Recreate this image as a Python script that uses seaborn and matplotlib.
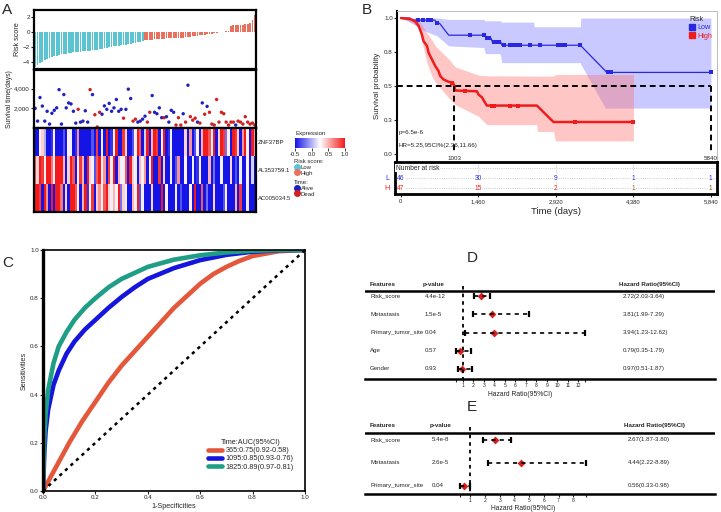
import numpy as np
import pandas as pd
import matplotlib
matplotlib.use("Agg")
import matplotlib.pyplot as plt
import matplotlib.transforms as mtransforms
import seaborn as sns
from matplotlib.colors import LinearSegmentedColormap
from matplotlib.lines import Line2D
from matplotlib.patches import Patch

# ---------------- data: panel A (risk score / survival / heatmap) ----------------
risk_low = [-4.72, -4.45, -4.2, -4.0, -3.82, -3.66, -3.52, -3.4, -3.28, -3.18,
            -3.08, -3.0, -2.94, -2.9, -2.85, -2.8, -2.76, -2.72, -2.68, -2.64,
            -2.6, -2.57, -2.54, -2.5, -2.45, -2.4, -2.36, -2.3, -2.25, -2.2,
            -2.12, -2.05, -1.98, -1.93, -1.88, -1.83, -1.78, -1.72, -1.68, -1.62,
            -1.56, -1.5, -1.44, -1.38, -1.3, -1.22]
risk_high = [-1.12, -1.08, -1.04, -1.0, -0.97, -0.94, -0.92, -0.9, -0.88, -0.86,
             -0.85, -0.83, -0.81, -0.8, -0.78, -0.76, -0.73, -0.7, -0.66, -0.62,
             -0.58, -0.54, -0.5, -0.45, -0.4, -0.35, -0.3, -0.25, -0.2, -0.14,
             -0.08, -0.03, 0.02, 0.08, 0.14, 0.2, 0.86, 0.9, 0.93, 0.96,
             0.99, 1.02, 1.06, 1.1, 1.3, 1.6, 2.3]
time_low = [2000, 700, 3100, 2230, 700, 1700, 400, 1500, 1800, 2050,
            3900, 400, 3400, 2050, 2550, 2450, 1700, 500, 1900, 600,
            700, 1750, 600, 3900, 3400, 1350, 100, 1600, 1400, 2250,
            1900, 2500, 1700, 2050, 2900, 1700, 1900, 1000, 1900, 3950,
            3000, 700, 900, 600, 700, 900]
time_high = [1200, 600, 1600, 3300, 1600, 1450, 2050, 1050, 1050, 1150,
             600, 1800, 1600, 300, 1050, 300, 1450, 600, 4350, 1150,
             800, 1000, 600, 500, 2550, 1400, 2200, 1600, 400, 300,
             2900, 600, 1600, 1450, 600, 300, 600, 600, 300, 700,
             600, 400, 1150, 600, 400, 500, 300]
dead_low = [0, 0, 0, 0, 0, 0, 0, 0, 0, 0, 0, 0, 0, 0, 0, 0, 0, 0, 1, 0,
            0, 0, 0, 1, 0, 1, 1, 1, 0, 0, 0, 0, 0, 0, 0, 0, 0, 1, 0, 0,
            0, 1, 1, 0, 0, 0]
dead_high = [0, 1, 1, 0, 0, 0, 0, 0, 1, 0, 0, 0, 0, 1, 1, 1, 0, 1, 0, 1,
             1, 1, 0, 1, 0, 1, 0, 1, 1, 1, 1, 1, 1, 1, 1, 1, 1, 1, 0, 1,
             1, 1, 1, 1, 1, 1, 1]

gene_names = ["ZNF37BP", "AL353759.1", "AC005034.5"]
expr_znf = [-0.5, -0.5, 0.3, 0.4, 0.0, -0.5, -0.5, -0.4, 0.3, -0.5, -0.5, -0.5, -0.3, -0.5, 0.3, 0.2,
            -0.5, -0.4, 0.6, -0.5, -0.5, -0.5, -0.5, -0.5, -0.3, -0.5, 0.9, -0.5, 0.2, -0.5, 1.0, -0.5,
            -0.4, 0.3, 1.0, -0.5, -0.5, 0.9, 0.4, -0.5, -0.5, -0.3, 0.3, 1.0, 0.8, -0.5, 0.1,
            1.0, -0.5, 0.5, 1.0, 0.9, -0.5, 0.3, 1.0, -0.5, -0.4, 0.2, -0.5, -0.5, -0.5, -0.5, -0.5,
            0.4, -0.5, 0.6, -0.5, -0.3, 0.3, -0.5, 0.5, 1.0, 1.0, 0.8, 0.2, 1.0, -0.5, 0.4, 1.0,
            0.9, -0.2, 0.3, -0.5, 1.0, 0.9, 0.4, -0.5, 0.6, 1.0, 0.3, -0.5, 1.0, 0.5]
expr_al = [0.8, 0.4, 1.0, 0.9, 0.3, 1.0, 1.0, 0.7, 0.2, 1.0, 1.0, 1.0, 0.5, -0.5, 0.4, 1.0,
           0.8, -0.5, 0.3, 0.9, 0.5, -0.5, 1.0, 0.4, 0.2, -0.3, 0.8, 1.0, 0.3, 0.6, -0.5, 0.9,
           0.3, 1.0, -0.5, 0.5, 0.2, 0.3, 0.8, -0.5, 1.0, 0.4, 0.2, -0.5, 0.5, 0.3, 0.6,
           -0.5, 0.3, 1.0, -0.5, -0.5, 0.9, -0.5, 0.4, -0.5, -0.5, 0.2, -0.5, -0.3, 0.6, -0.5, -0.5,
           0.3, -0.5, -0.5, 0.2, -0.5, -0.4, 0.3, -0.5, -0.5, -0.5, 0.5, -0.5, -0.2, -0.5, -0.5, 0.2,
           -0.5, -0.5, -0.5, 0.4, -0.5, -0.3, -0.5, 0.2, -0.5, -0.5, 0.3, -0.5, 0.1, -0.5]
expr_ac = [1.0, 1.0, 0.9, -0.5, 1.0, 0.6, -0.5, 1.0, -0.5, 1.0, 1.0, 0.7, -0.5, 0.4, -0.5, 1.0,
           1.0, 0.8, 0.3, -0.5, 0.5, 1.0, -0.4, 0.3, 0.9, -0.5, 0.4, 0.6, 0.3, 0.8, 1.0, 0.4,
           0.2, 0.5, 0.3, 1.0, -0.2, 0.4, 0.2, -0.5, -0.5, 0.5, 0.3, 1.0, -0.3, 0.2, -0.5,
           -0.5, -0.5, 0.4, -0.5, -0.5, -0.5, 1.0, -0.5, 0.3, -0.5, -0.5, -0.5, 0.2, -0.5, -0.3, -0.5,
           -0.5, -0.5, 0.3, -0.5, 1.0, -0.5, -0.5, 0.8, -0.5, -0.2, -0.5, -0.5, 0.4, -0.5, -0.5, -0.5,
           -0.3, 0.3, -0.5, -0.5, -0.5, 0.5, -0.5, 0.9, -0.5, -0.5, 0.2, -0.5, -0.5, -0.5]

# ---------------- data: panel B (Kaplan-Meier) ----------------
low_t = [0, 170, 190, 640, 660, 730, 900, 1590, 1610, 1700, 1720, 1880, 1900, 3380, 3880, 5840]
low_s = [1.0, 1.0, 0.985, 0.985, 0.965, 0.96, 0.874, 0.874, 0.85, 0.85, 0.825, 0.825, 0.80, 0.80, 0.60, 0.60]
high_t = [0, 175, 270, 332, 393, 425, 490, 520, 583, 646, 708, 740, 803, 897, 979, 1003, 1023,
          1431, 1461, 1525, 1569, 1619, 2561, 2874, 4380]
high_s = [1.0, 0.993, 0.975, 0.943, 0.88, 0.83, 0.795, 0.745, 0.696, 0.647, 0.61, 0.573, 0.548,
          0.531, 0.524, 0.504, 0.467, 0.461, 0.437, 0.417, 0.387, 0.356, 0.356, 0.235, 0.235]
low_cens_t = [330, 420, 500, 560, 680, 1305, 1560, 1620, 1660, 1760, 1800, 1850, 1950, 2060,
              2120, 2190, 2250, 2430, 2620, 2950, 3010, 3100, 3380, 3900, 3960, 5840]
low_cens_s = [0.985, 0.985, 0.985, 0.985, 0.965, 0.874, 0.874, 0.85, 0.85, 0.825, 0.825, 0.825,
              0.80, 0.80, 0.80, 0.80, 0.80, 0.80, 0.80, 0.80, 0.80, 0.80, 0.80, 0.60, 0.60, 0.60]
high_cens_t = [960, 1210, 1720, 1745, 2060, 2210, 3280, 4380]
high_cens_s = [0.524, 0.461, 0.356, 0.356, 0.356, 0.356, 0.235, 0.235]
band_low_t = [0, 240, 360, 680, 900, 1560, 1590, 1870, 1900, 2500, 2510, 3380, 3390, 3850, 5840]
band_low_lo = [1.0, 0.955, 0.918, 0.869, 0.795, 0.783, 0.738, 0.738, 0.672, 0.672, 0.672, 0.672,
               0.66, 0.338, 0.338]
band_low_hi = [1.0, 1.0, 1.0, 1.0, 0.99, 0.99, 0.98, 0.98, 0.97, 0.97, 0.936, 0.936, 1.0, 1.0, 1.0]
band_high_t = [0, 200, 332, 393, 490, 583, 646, 740, 897, 1023, 1461, 1619, 2561, 2570, 2874, 2910, 4380]
band_high_lo = [1.0, 0.97, 0.93, 0.83, 0.67, 0.573, 0.53, 0.486, 0.413, 0.363, 0.277, 0.215, 0.215,
                0.165, 0.165, 0.096, 0.096]
band_high_hi = [1.0, 1.0, 0.985, 0.95, 0.89, 0.84, 0.795, 0.76, 0.70, 0.64, 0.58, 0.575, 0.573,
                0.573, 0.573, 0.585, 0.585]
risk_ticks = [0, 1460, 2920, 4380, 5840]
risk_tick_labels = ["0", "1,460", "2,920", "4,380", "5,840"]
at_risk_low = [46, 30, 9, 1, 1]
at_risk_high = [47, 15, 2, 1, 1]

# ---------------- data: panel C (time dependent ROC) ----------------
roc_365_fpr = [0, 0.05, 0.1, 0.15, 0.2, 0.25, 0.3, 0.35, 0.4, 0.45, 0.5, 0.55, 0.6, 0.65, 0.7, 0.75, 0.8, 0.9, 1.0]
roc_365_tpr = [0, 0.1, 0.2, 0.29, 0.37, 0.45, 0.52, 0.58, 0.64, 0.7, 0.76, 0.81, 0.86, 0.9, 0.93, 0.955, 0.975, 0.995, 1.0]
roc_1095_fpr = [0, 0.005, 0.01, 0.02, 0.04, 0.06, 0.09, 0.12, 0.16, 0.2, 0.25, 0.3, 0.35, 0.4, 0.5, 0.6, 0.7, 0.8, 0.9, 1.0]
roc_1095_tpr = [0, 0.16, 0.25, 0.34, 0.44, 0.5, 0.57, 0.62, 0.67, 0.71, 0.76, 0.805, 0.845, 0.88, 0.925, 0.958, 0.98, 0.993, 0.999, 1.0]
roc_1825_fpr = [0, 0.005, 0.01, 0.02, 0.04, 0.06, 0.09, 0.12, 0.16, 0.2, 0.25, 0.3, 0.35, 0.4, 0.5, 0.6, 0.7, 0.8, 0.9, 1.0]
roc_1825_tpr = [0, 0.22, 0.32, 0.42, 0.53, 0.6, 0.66, 0.71, 0.76, 0.8, 0.845, 0.88, 0.905, 0.93, 0.96, 0.978, 0.99, 0.997, 1.0, 1.0]
roc_labels = ["365:0.75(0.92-0.58)", "1095:0.85(0.93-0.76)", "1825:0.89(0.97-0.81)"]

# ---------------- data: panels D / E (forest plots) ----------------
feat_d = ["Risk_score", "Metastasis", "Primary_tumor_site", "Age", "Gender"]
pval_d = ["4.4e-12", "1.5e-5", "0.04", "0.57", "0.93"]
hr_d = [2.72, 3.81, 3.94, 0.79, 0.97]
lo_d = [2.03, 1.99, 1.23, 0.35, 0.51]
hi_d = [3.64, 7.29, 12.62, 1.79, 1.87]
feat_e = ["Risk_score", "Metastasis", "Primary_tumor_site"]
pval_e = ["5.4e-8", "2.6e-5", "0.04"]
hr_e = [2.67, 4.44, 0.56]
lo_e = [1.87, 2.22, 0.33]
hi_e = [3.80, 8.89, 0.98]

# ---------------- style ----------------
W, H = 721, 512
sns.set_theme(style="white")
plt.rcParams["font.family"] = ["Liberation Sans", "DejaVu Sans"]

c_low, c_high = "#5BC4D3", "#E8705F"
c_alive, c_dead = "#2020C0", "#D02020"
km_blue, km_red = "#2828E0", "#EE1C1C"
roc_colors = ["#E4573A", "#1515DD", "#1E9E85"]
fs_tick, fs_lab = 4.5, 5.2


def px_box(x0, y0, x1, y1):
    # pixel box (top-left origin) -> figure fraction rect
    return [x0 / W, 1 - y1 / H, (x1 - x0) / W, (y1 - y0) / H]


def frame(ax, lw=1.5, color="black"):
    for s in ax.spines.values():
        s.set_visible(True)
        s.set_linewidth(lw)
        s.set_color(color)


fig = plt.figure(figsize=(W / 100, H / 100), dpi=100)

# ================= A =================
n = len(risk_low) + len(risk_high)
df_a = pd.DataFrame({
    "patient": np.arange(n),
    "risk": risk_low + risk_high,
    "group": ["Low"] * len(risk_low) + ["High"] * len(risk_high),
    "time": time_low + time_high,
    "state": ["Dead" if d else "Alive" for d in dead_low + dead_high],
})

ax_bar = fig.add_axes(px_box(34, 10, 256, 69))
sns.barplot(data=df_a, x="patient", y="risk", hue="group", palette={"Low": c_low, "High": c_high},
            dodge=False, width=0.75, saturation=1, linewidth=0, legend=False, ax=ax_bar)
ax_bar.set_xlim(-0.5, n - 0.5)
ax_bar.set_ylim(-5, 3)
ax_bar.set_xticks([])
ax_bar.set_yticks([-4, -2, 0, 2])
ax_bar.set_xlabel("")
ax_bar.set_ylabel("Risk score", fontsize=fs_lab, labelpad=1)
ax_bar.tick_params(axis="y", left=True, labelsize=fs_tick, length=2, width=0.8, pad=1)
frame(ax_bar, 1.6)

ax_surv = fig.add_axes(px_box(34, 70, 256, 128))
sns.scatterplot(data=df_a, x="patient", y="time", hue="state", palette={"Alive": c_alive, "Dead": c_dead},
                s=6, linewidth=0, legend=False, ax=ax_surv)
ax_surv.set_xlim(-0.5, n - 0.5)
ax_surv.set_ylim(0, 5900)
ax_surv.set_xticks([])
ax_surv.set_yticks([2000, 4000])
ax_surv.set_yticklabels(["2,000", "4,000"])
ax_surv.set_xlabel("")
ax_surv.set_ylabel("Survival time(days)", fontsize=fs_lab - 0.3, labelpad=1)
ax_surv.tick_params(axis="y", left=True, labelsize=fs_tick, length=2, width=0.8, pad=1)
frame(ax_surv, 1.6)

expr = pd.DataFrame([expr_znf, expr_al, expr_ac], index=gene_names)
heat_cmap = LinearSegmentedColormap.from_list("expr", ["#1414E6", "#FFFFFF", "#F21A1A"])
ax_heat = fig.add_axes(px_box(34, 128, 256, 212))
cax = fig.add_axes(px_box(295, 138, 345, 148))
sns.heatmap(expr, cmap=heat_cmap, vmin=-0.5, vmax=1.0, ax=ax_heat, cbar_ax=cax, xticklabels=False,
            cbar_kws={"orientation": "horizontal", "ticks": [-0.5, 0, 0.5, 1.0]})
ax_heat.yaxis.tick_right()
ax_heat.set_yticklabels(gene_names, rotation=0, fontsize=4.3)
ax_heat.tick_params(axis="y", length=0, pad=1.5)
frame(ax_heat, 1.6)
cax.set_xticklabels(["-0.5", "0.0", "0.5", "1.0"])
cax.tick_params(axis="x", bottom=True, labelsize=4.2, length=2, width=0.6, pad=1)
fig.text(296 / W, 1 - 134 / H, "Expression", fontsize=4.4, va="center")

leg_kw = dict(loc="upper left", frameon=False, fontsize=4.3, title_fontsize=4.3, alignment="left",
              handletextpad=0.2, labelspacing=0.1, borderpad=0, borderaxespad=0, handlelength=0.9,
              bbox_transform=fig.transFigure)
h_risk = [Line2D([], [], ls="", marker="o", ms=4, color=c_low),
          Line2D([], [], ls="", marker="o", ms=4, color=c_high)]
h_time = [Line2D([], [], ls="", marker="o", ms=4, color=c_alive),
          Line2D([], [], ls="", marker="o", ms=4, color=c_dead)]
fig.legend(h_risk, ["Low", "High"], title="Risk score:", bbox_to_anchor=(294 / W, 1 - 159 / H), **leg_kw)
fig.legend(h_time, ["Alive", "Dead"], title="Time:", bbox_to_anchor=(294 / W, 1 - 180 / H), **leg_kw)

# ================= B =================
ax_km = fig.add_axes(px_box(397, 11, 717, 161))
ax_km.fill_between(band_low_t, band_low_lo, band_low_hi, color=(0.45, 0.45, 1.0), alpha=0.38, lw=0)
ax_km.fill_between(band_high_t, band_high_lo, band_high_hi, color=(1.0, 0.42, 0.42), alpha=0.38, lw=0)
km_low = pd.DataFrame({"time": low_t, "surv": low_s})
km_high = pd.DataFrame({"time": high_t, "surv": high_s})
sns.lineplot(data=km_low, x="time", y="surv", color=km_blue, lw=0.9, estimator=None, sort=False, ax=ax_km)
sns.lineplot(data=km_high, x="time", y="surv", color=km_red, lw=1.8, estimator=None, sort=False, ax=ax_km)
sns.scatterplot(x=low_cens_t, y=low_cens_s, color=km_blue, marker="s", s=5, linewidth=0, ax=ax_km)
sns.scatterplot(x=high_cens_t, y=high_cens_s, color=km_red, marker="s", s=5, linewidth=0, ax=ax_km)
dash = (0, (3, 2))
ax_km.plot([-75, 5840], [0.5, 0.5], color="black", ls=dash, lw=1.4)
for t in [1003, 5840]:
    ax_km.plot([t, t], [0.5, 0.0], color="black", ls=dash, lw=1.4)
    ax_km.text(t, -0.033, str(t), fontsize=fs_tick, ha="center", va="center")
ax_km.text(-45, 0.156, "p=6.5e-6", fontsize=fs_tick, va="center")
ax_km.text(-45, 0.06, "HR=5.25,95CI%(2.36,11.66)", fontsize=fs_tick, va="center")
ax_km.set_xlim(-75, 5955)
ax_km.set_ylim(-0.052, 1.052)
ax_km.set_xticks([])
ax_km.set_yticks([0, 0.25, 0.5, 0.75, 1.0])
ax_km.set_yticklabels(["0.0", "0.3", "0.5", "0.8", "1.0"])
ax_km.set_xlabel("")
ax_km.set_ylabel("Survival probability", fontsize=fs_lab + 0.5, labelpad=2)
ax_km.tick_params(axis="y", left=True, labelsize=fs_tick, length=2, width=0.8, pad=1)
frame(ax_km, 0.7, "#BBBBBB")
ax_km.spines["left"].set_color("black")
ax_km.spines["left"].set_linewidth(1.5)
ax_km.spines["bottom"].set_visible(False)
leg = ax_km.legend(handles=[Patch(color=km_blue, label="Low"), Patch(color=km_red, label="High")],
                   title="Risk", loc="upper right", frameon=False, fontsize=fs_lab, title_fontsize=fs_lab,
                   alignment="left", handlelength=0.8, handleheight=0.8, handletextpad=0.3,
                   labelspacing=0.15, borderaxespad=0.3)
for txt, c in zip(leg.get_texts(), [km_blue, km_red]):
    txt.set_color(c)

ax_tab = fig.add_axes(px_box(395, 162, 717, 194))
ax_tab.set_xlim(-107, 5960)
ax_tab.set_ylim(2.55, -0.6)
for t in risk_ticks[1:-1]:
    ax_tab.axvline(t, color="#BBBBBB", ls=":", lw=0.6)
for r in [0, 1, 2]:
    ax_tab.axhline(r, color="#BBBBBB", ls=":", lw=0.6, zorder=0)
ax_tab.text(-95, 0, "Number at risk", fontsize=fs_tick + 0.3, va="center",
            bbox=dict(facecolor="white", edgecolor="none", pad=0.5))
for t, a, b in zip(risk_ticks, at_risk_low, at_risk_high):
    ax_tab.text(t, 1, str(a), color=km_blue, fontsize=fs_tick + 0.3, ha="center", va="center",
                bbox=dict(facecolor="white", edgecolor="none", pad=0.3))
    ax_tab.text(t, 2, str(b), color=km_red if b > 1 else "#A0522D", fontsize=fs_tick + 0.3, ha="center",
                va="center", bbox=dict(facecolor="white", edgecolor="none", pad=0.3))
ax_tab.text(-250, 1, "L", color=km_blue, fontsize=fs_lab, ha="center", va="center")
ax_tab.text(-250, 2, "H", color=km_red, fontsize=fs_lab, ha="center", va="center")
ax_tab.set_xticks(risk_ticks)
ax_tab.set_xticklabels(risk_tick_labels)
ax_tab.set_yticks([])
ax_tab.tick_params(axis="x", bottom=True, labelsize=fs_tick - 0.3, length=2, width=0.8, pad=1.5)
ax_tab.set_xlabel("Time (days)", fontsize=6.8, labelpad=2)
frame(ax_tab, 2.0)

# ================= C =================
ax_roc = fig.add_axes(px_box(43, 250, 305, 491))
roc_sets = [(roc_365_fpr, roc_365_tpr), (roc_1095_fpr, roc_1095_tpr), (roc_1825_fpr, roc_1825_tpr)]
for (fpr, tpr), col, lab in zip(roc_sets, roc_colors, roc_labels):
    sns.lineplot(x=fpr, y=tpr, color=col, lw=3.3, estimator=None, sort=False, label=lab, ax=ax_roc)
ax_roc.plot([0, 1], [0, 1], color="black", ls=(0, (1.3, 1.7)), lw=1.8)
ax_roc.set_xlim(0, 1)
ax_roc.set_ylim(0, 1)
ax_roc.set_xticks(np.arange(0, 1.01, 0.2))
ax_roc.set_yticks(np.arange(0, 1.01, 0.2))
ax_roc.set_xticklabels([f"{v:.1f}" for v in np.arange(0, 1.01, 0.2)])
ax_roc.set_yticklabels([f"{v:.1f}" for v in np.arange(0, 1.01, 0.2)])
ax_roc.tick_params(left=True, bottom=True, labelsize=fs_tick, length=2, width=0.8, pad=1)
ax_roc.set_xlabel("1-Specificities", fontsize=fs_lab, labelpad=2)
ax_roc.set_ylabel("Sensitivities", fontsize=fs_lab, labelpad=2)
frame(ax_roc, 1.2)
ax_roc.spines["left"].set_linewidth(2.4)
ax_roc.legend(title="Time:AUC(95%CI)", loc="lower right", bbox_to_anchor=(0.97, 0.07), frameon=False,
              fontsize=fs_lab, title_fontsize=fs_lab, handlelength=2.0, handletextpad=0.4,
              labelspacing=0.15, borderpad=0)


# ================= D / E =================
def forest(box, feats, pvals, hr, lo, hi, x0_px, unit_px, ylim, p_frac, hr_frac, label_drop):
    ax = fig.add_axes(px_box(*box))
    left_px, right_px = box[0], box[2]
    ax.set_xlim((left_px - x0_px) / unit_px, (right_px - x0_px) / unit_px)
    ax.set_ylim(*ylim)
    rows = np.arange(len(feats))
    df = pd.DataFrame({"row": rows, "hr": hr, "lo": lo, "hi": hi})
    trans = mtransforms.blended_transform_factory(ax.transAxes, ax.transData)
    head_y = -0.62
    line_y = -0.3
    for txt, fx in [("Features", 0.0143), ("p-value", p_frac - 0.006), ("Hazard Ratio(95%CI)", hr_frac - 0.012)]:
        ax.text(fx, head_y, txt, fontsize=4.5, fontweight="bold", va="center", transform=trans)
    ax.axhline(line_y, color="black", lw=1.8)
    ax.plot([1, 1], [line_y - 0.25, ylim[0]], color="black", ls=(0, (2, 2.2)), lw=1.3)
    for _, r in df.iterrows():
        ax.plot([r.lo, r.hi], [r.row, r.row], color="black", ls=(0, (2.5, 2.5)), lw=1.2)
        ax.plot([r.lo, r.hi], [r.row, r.row], ls="", marker="|", ms=4.5, mew=1.6, color="black")
    sns.scatterplot(data=df, x="hr", y="row", marker="D", color="#D42020", s=16, linewidth=0, ax=ax)
    for i, (f, p, h, l, u) in enumerate(zip(feats, pvals, hr, lo, hi)):
        ax.text(0.0143, i, f, fontsize=4.4, va="center", transform=trans)
        ax.text(p_frac, i, p, fontsize=4.4, va="center", transform=trans)
        ax.text(hr_frac, i, f"{h:.2f}({l:.2f}-{u:.2f})", fontsize=4.4, va="center", transform=trans)
    ticks = [min(lo)] + list(range(1, int(max(hi)) + 1)) + [max(hi)]
    ax.set_xticks(ticks)
    ax.set_xticklabels([""] + [str(t) for t in range(1, int(max(hi)) + 1)] + [""])
    ax.tick_params(axis="x", bottom=True, labelsize=3.6, length=2.2, width=0.8, pad=0.8)
    ax.set_yticks([])
    ax.set_xlabel("")
    ax.set_ylabel("")
    for s in ["top", "left", "right"]:
        ax.spines[s].set_visible(False)
    ax.spines["bottom"].set_linewidth(1.8)
    ax.spines["bottom"].set_color("black")
    xt = mtransforms.blended_transform_factory(ax.transData, ax.transAxes)
    ax.text((min(lo) + max(hi)) / 2, label_drop, "Hazard Ratio(95%CI)", fontsize=4.9, ha="center",
            va="center", transform=xt)
    return ax


forest((365, 276, 715, 379), feat_d, pval_d, hr_d, lo_d, hi_d, 452.2, 10.5, (4.55, -1.1), 0.171, 0.737, -0.15)
forest((365, 417, 715, 494), feat_e, pval_e, hr_e, lo_e, hi_e, 455.6, 14.7, (2.35, -1.0), 0.19, 0.751, -0.19)

# panel letters
for lab, x, y in [("A", 7, 10), ("B", 367, 10), ("C", 8, 263), ("D", 472, 258), ("E", 472, 407)]:
    fig.text(x / W, 1 - y / H, lab, fontsize=11, ha="center", va="center")

fig.savefig("out.png", dpi=100)
